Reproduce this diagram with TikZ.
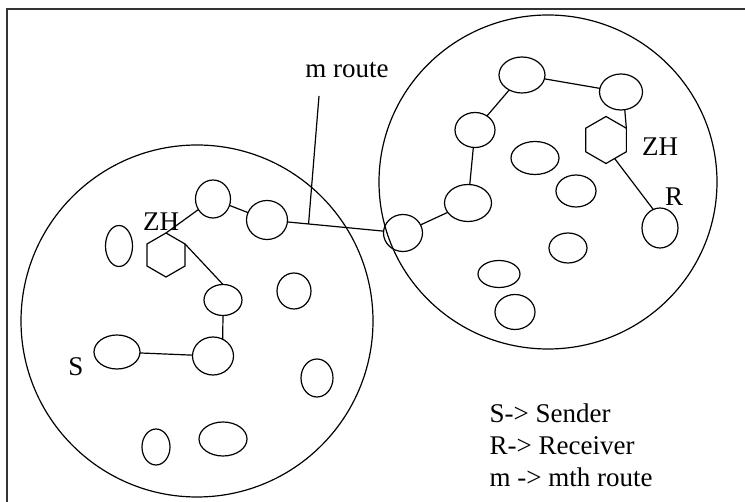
\documentclass[tikz,border=0pt]{standalone}
\usepackage{fontspec}
\setmainfont{Liberation Serif}
\usetikzlibrary{shapes.geometric}
\begin{document}
\begin{tikzpicture}[x=1pt,y=-1pt,line width=1.2pt,
  zone/.style={draw,ellipse,inner sep=0pt,outer sep=0pt},
  mnode/.style 2 args={draw,ellipse,inner sep=0pt,outer sep=0pt,
    minimum width=#1pt,minimum height=#2pt},
  zhead/.style={draw,regular polygon,regular polygon sides=6,
    shape border rotate=30,inner sep=0pt,outer sep=0pt,minimum size=#1pt},
  link/.style={draw},
  lbl/.style={inner sep=0pt,font=\fontsize{27}{32}\selectfont}]
\useasboundingbox (0,0) rectangle (745,502);
% outer frame, running off the right and bottom edges
\begin{scope}
  \clip (0,0) rectangle (745,502);
  \draw[line width=2pt,black!80] (7,9.5) rectangle (800,560);
\end{scope}

% the two zones
\node[zone,minimum width=352pt,minimum height=352pt] (zoneL) at (197,321) {};
\node[zone,minimum width=338pt,minimum height=334pt] (zoneR) at (548,182) {};

% nodes of the left zone
\node[mnode={35}{38}] (A) at (213,199) {};
\node[mnode={41}{39}] (B) at (267,220) {};
\node[zhead=44] (hexL) at (166,255) {};
\node[mnode={27}{41}] (l1) at (119,246) {};
\node[mnode={38}{31}] (C) at (223,300) {};
\node[mnode={34}{36}] (l2) at (294,291) {};
\node[mnode={46}{34}] (S) at (117,352) {};
\node[mnode={41}{38}] (D) at (213,356) {};
\node[mnode={32}{38}] (l3) at (317,378) {};
\node[mnode={28}{36}] (l4) at (156,447) {};
\node[mnode={48}{34}] (l5) at (223,439) {};

% nodes of the right zone
\node[mnode={39}{37}] (E) at (403,233) {};
\node[mnode={47}{37}] (F) at (468,203) {};
\node[mnode={40}{35}] (G) at (475,130) {};
\node[mnode={46}{36}] (H) at (522,75) {};
\node[mnode={43}{36}] (I) at (621,92) {};
\node[zhead=47] (hexR) at (606,140) {};
\node[mnode={48}{33}] (r1) at (535,158) {};
\node[mnode={40}{32}] (r2) at (576,191) {};
\node[mnode={36}{40}] (Rn) at (660,228) {};
\node[mnode={38}{30}] (r3) at (568,248) {};
\node[mnode={42}{27}] (r4) at (499,274) {};
\node[mnode={40}{35}] (r5) at (515,312) {};

% route from S to R
\draw[link] (S) -- (D);
\draw[link] (C.south) -- (D.60);
\draw[link] (hexL.30) -- (C.north);
\draw[link] (hexL.north) -- (A);
\draw[link] (A) -- (B);
\draw[link] (B) -- (E) coordinate[pos=0.22] (mpt);
\draw[link] (E) -- (F);
\draw[link] (F) -- (G);
\draw[link] (G) -- (H);
\draw[link] (H) -- (I);
\draw[link] (I.-78) -- (hexR.30);
\draw[link] (hexR.-65) -- (Rn.110);

% pointer to the m-th route
\coordinate (mtop) at (319,96);
\draw[link] (mtop) -- (mpt);

% labels
\node[lbl] (mlabel) at (347,70) {m route};
\node[lbl] (zhL) at (161,222) {ZH};
\node[lbl] (zhR) at (660,147) {ZH};
\node[lbl] (Rlabel) at (674,197) {R};
\node[lbl] (Slabel) at (76,367) {S};
\node[lbl,anchor=west,align=left] (legend) at (489,445)
  {S-> Sender\\R-> Receiver\\m -> mth route};
\end{tikzpicture}
\end{document}
